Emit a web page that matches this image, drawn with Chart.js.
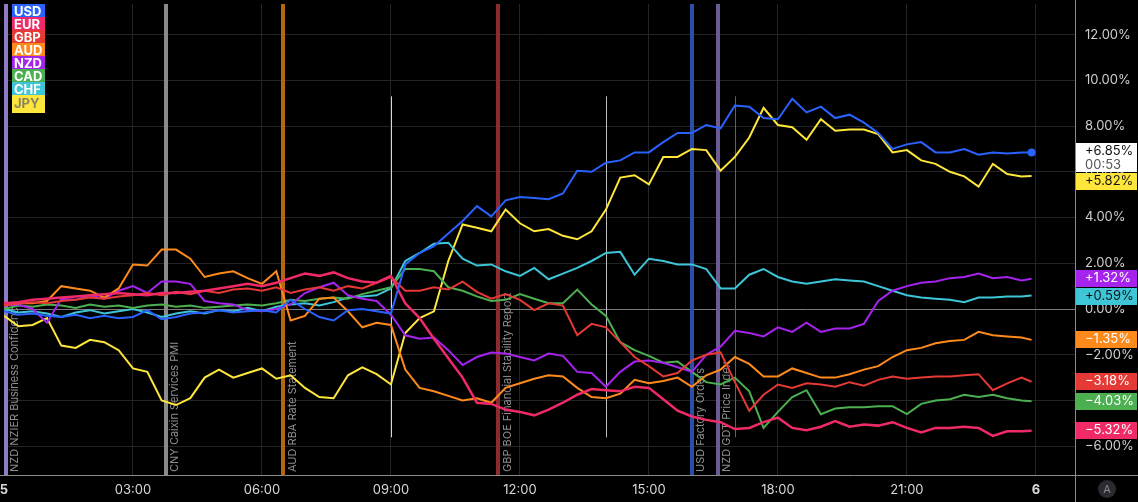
<!DOCTYPE html>
<html>
<head>
<meta charset="utf-8">
<script src="https://cdn.jsdelivr.net/npm/chart.js@4.4.1/dist/chart.umd.min.js"></script>
<style>
  html, body { margin: 0; padding: 0; background: #000; }
  #wrap { position: relative; width: 1138px; height: 502px; }
</style>
</head>
<body>
<div id="wrap"><canvas id="chart"></canvas></div>
<script>
// time of each sample (20 min steps, last one is the live bar)
const times = [
  "00:00","00:20","00:40","01:00","01:20","01:40","02:00","02:20","02:40","03:00",
  "03:20","03:40","04:00","04:20","04:40","05:00","05:20","05:40","06:00","06:20",
  "06:40","07:00","07:20","07:40","08:00","08:20","08:40","09:00","09:20","09:40",
  "10:00","10:20","10:40","11:00","11:20","11:40","12:00","12:20","12:40","13:00",
  "13:20","13:40","14:00","14:20","14:40","15:00","15:20","15:40","16:00","16:20",
  "16:40","17:00","17:20","17:40","18:00","18:20","18:40","19:00","19:20","19:40",
  "20:00","20:20","20:40","21:00","21:20","21:40","22:00","22:20","22:40","23:00",
  "23:20","23:40","23:54"
];

const currencies = ["USD", "EUR", "GBP", "AUD", "NZD", "CAD", "CHF", "JPY"];
const colors = ["#2962ff", "#f02a66", "#e53935", "#ff8a1c", "#a623ee", "#4caf50", "#3ec6d8", "#ffe63b"];

// % change since the open
const usd = [-0.1,-0.25,-0.2,-0.3,-0.35,-0.25,-0.4,-0.3,-0.4,-0.35,
  -0.05,-0.45,-0.35,-0.2,-0.15,-0.05,-0.15,-0.1,-0.05,-0.15,
  0.4,0.0,-0.35,-0.5,-0.05,0.0,-0.1,-0.2,1.95,2.45,
  2.75,3.3,3.85,4.5,4.05,4.75,4.9,4.85,4.8,5.05,
  6.05,6.0,6.4,6.5,6.85,6.85,7.3,7.7,7.7,8.05,
  7.9,8.9,8.85,8.35,8.3,9.2,8.6,8.85,8.35,8.5,
  8.15,7.7,7.0,7.2,7.3,6.85,6.85,7.0,6.75,6.85,
  6.8,6.85,6.85];
const eur = [0.25,0.3,0.4,0.45,0.5,0.55,0.6,0.65,0.7,0.65,
  0.6,0.7,0.7,0.75,0.8,0.9,1.0,1.1,1.0,1.15,
  1.35,1.55,1.45,1.6,1.35,1.2,1.15,1.45,0.25,-0.4,
  -1.3,-2.15,-3.0,-4.1,-4.15,-4.4,-4.5,-4.65,-4.4,-4.1,
  -3.75,-3.5,-3.55,-3.6,-3.4,-3.45,-3.95,-4.45,-4.7,-4.85,
  -4.95,-5.25,-5.2,-4.95,-4.75,-5.2,-5.3,-5.15,-4.9,-5.15,
  -5.05,-5.1,-4.95,-5.2,-5.4,-5.2,-5.2,-5.15,-5.2,-5.55,
  -5.35,-5.35,-5.32];
const gbp = [0.15,0.25,0.3,0.25,0.35,0.4,0.5,0.45,0.55,0.6,
  0.7,0.6,0.75,0.65,0.8,0.7,0.85,0.9,0.8,0.95,
  0.7,0.85,0.95,0.8,1.0,0.9,1.15,1.4,0.8,0.8,
  0.95,0.85,1.2,0.75,0.45,0.65,0.4,-0.05,0.25,0.15,
  -1.15,-0.65,-0.8,-1.45,-2.1,-2.5,-2.95,-2.8,-2.25,-2.0,
  -1.9,-3.2,-4.45,-3.75,-3.3,-3.45,-3.25,-3.3,-3.4,-3.2,
  -3.35,-3.1,-2.95,-3.05,-3.0,-2.95,-2.95,-2.9,-2.85,-3.55,
  -3.25,-3.0,-3.18];
const aud = [0.2,0.25,0.25,0.35,1.0,0.9,0.8,0.5,0.9,1.95,
  1.9,2.6,2.6,2.2,1.4,1.55,1.65,1.35,1.1,1.65,
  -0.5,-0.3,0.45,0.5,-0.1,-0.8,-0.6,-0.7,-2.65,-3.45,
  -3.6,-3.8,-4.0,-3.9,-4.1,-3.45,-3.25,-3.05,-2.9,-2.95,
  -3.45,-3.85,-3.9,-3.7,-3.1,-3.25,-3.15,-3.0,-3.4,-2.9,
  -2.65,-2.1,-2.4,-2.95,-2.95,-2.6,-2.8,-3.0,-3.0,-2.85,
  -2.65,-2.5,-2.1,-1.8,-1.7,-1.5,-1.4,-1.35,-1.0,-1.15,
  -1.2,-1.25,-1.35];
const nzd = [0.15,0.2,0.0,-0.6,0.45,0.4,0.6,0.45,0.8,1.0,
  0.7,1.2,1.2,1.1,0.35,0.25,0.2,-0.05,-0.1,0.0,
  0.2,0.7,0.95,1.15,0.6,0.45,0.35,-0.25,-1.15,-1.3,
  -1.25,-1.8,-2.45,-2.1,-1.9,-1.95,-2.1,-2.25,-1.95,-2.05,
  -2.75,-2.8,-3.4,-2.75,-2.3,-2.25,-2.35,-2.55,-2.75,-2.0,
  -1.65,-0.95,-1.05,-1.2,-0.8,-1.0,-0.6,-1.0,-0.85,-0.85,
  -0.65,0.35,0.8,1.0,1.15,1.2,1.35,1.4,1.55,1.35,
  1.4,1.25,1.32];
const cad = [0.0,0.15,0.1,0.2,0.15,0.05,0.2,0.1,0.15,0.05,
  0.15,0.2,0.1,0.15,0.05,0.1,0.15,0.2,0.15,0.25,
  0.4,0.35,0.45,0.5,0.45,0.65,0.8,0.95,1.75,1.75,
  1.65,0.95,0.8,0.55,0.35,0.4,0.65,0.45,0.25,0.25,
  0.85,0.2,-0.3,-1.45,-1.8,-2.05,-2.35,-2.3,-2.75,-3.2,
  -3.3,-3.0,-3.6,-5.2,-4.5,-3.85,-3.55,-4.6,-4.35,-4.3,
  -4.3,-4.25,-4.25,-4.6,-4.15,-4.0,-3.95,-3.75,-3.85,-3.75,
  -3.9,-4.0,-4.03];
const chf = [0.0,-0.15,-0.1,-0.2,-0.35,-0.15,-0.05,-0.2,-0.1,0.0,
  -0.15,-0.35,-0.2,-0.1,-0.2,-0.05,-0.1,0.05,-0.1,0.1,
  0.2,0.25,0.15,0.3,0.5,0.55,0.6,0.9,2.1,2.45,
  2.85,2.9,2.2,1.9,1.95,1.65,1.45,1.8,1.3,1.55,
  1.8,2.1,2.45,2.5,1.5,2.2,2.1,1.95,1.95,1.75,
  0.9,0.9,1.5,1.75,1.4,1.2,1.1,1.2,1.3,1.25,
  1.2,1.0,0.8,0.6,0.5,0.45,0.4,0.3,0.5,0.5,
  0.55,0.55,0.59];
const jpy = [-0.3,-0.75,-0.7,-0.4,-1.6,-1.7,-1.35,-1.45,-1.8,-2.6,
  -2.75,-4.0,-4.2,-3.9,-3.0,-2.65,-3.0,-2.8,-2.6,-3.05,
  -2.9,-3.45,-3.85,-3.9,-2.9,-2.55,-2.85,-3.3,-1.05,-0.4,
  -0.1,2.1,3.7,3.55,3.4,4.35,3.75,3.4,3.5,3.2,
  3.05,3.4,4.35,5.75,5.85,5.45,6.65,6.65,7.0,6.95,
  6.05,6.65,7.5,8.8,8.05,7.95,7.4,8.3,7.8,7.85,
  7.85,7.65,6.85,6.95,6.5,6.35,6.0,5.8,5.35,6.35,
  5.9,5.8,5.82];
const series = [usd, eur, gbp, aud, nzd, cad, chf, jpy];

// axes
const xTickHours = [0, 3, 6, 9, 12, 15, 18, 21, 24];
const xTickLabels = ["5", "03:00", "06:00", "09:00", "12:00", "15:00", "18:00", "21:00", "6"];
const yTickValues = [-6, -4, -2, 0, 2, 4, 6, 8, 10, 12];

// calendar events drawn as vertical bars
const eventTimes = ["00:03", "03:46", "06:30", "11:30", "16:00", "16:36"];
const eventLabels = ["NZD NZIER Business Confidence", "CNY Caixin Services PMI", "AUD RBA Rate Statement",
  "GBP BOE Financial Stability Report", "USD Factory Orders", "NZD GDT Price Index"];
const eventColors = ["#8f7cc4", "#8a8a8a", "#b5670f", "#8d2a30", "#2b4ea6", "#6c5a92"];
// session break lines
const sessionTimes = ["09:00", "14:00", "17:00"];
const sessionColors = ["#d6d6d6", "#bdbdbd", "#c0392b"];

const toHours = s => Number(s.slice(0, 2)) + Number(s.slice(3)) / 60;
const fmtPct = v => (v >= 0 ? "+" : "\u2212") + Math.abs(v).toFixed(2) + "%";
const X_MAX = 24.91;

const overlay = {
  id: "overlay",
  beforeDatasetsDraw(chart) {
    const { ctx, chartArea: a, scales: { x } } = chart;
    const h = a.bottom - a.top;
    ctx.save();
    ctx.beginPath();
    ctx.rect(a.left, a.top, a.right - a.left, h);
    ctx.clip();

    eventTimes.forEach((t, i) => {
      const px = Math.round(x.getPixelForValue(toHours(t)));
      ctx.fillStyle = eventColors[i];
      ctx.fillRect(px - 2, a.top, 4, h);
    });
    sessionTimes.forEach((t, i) => {
      const px = Math.round(x.getPixelForValue(toHours(t))) + 0.5;
      ctx.strokeStyle = sessionColors[i];
      ctx.lineWidth = 1;
      ctx.beginPath();
      ctx.moveTo(px, a.top + h * 0.196);
      ctx.lineTo(px, a.top + h * 0.92);
      ctx.stroke();
    });

    ctx.font = "11px Inter";
    ctx.fillStyle = "#8e8e8e";
    ctx.textAlign = "left";
    ctx.textBaseline = "middle";
    eventTimes.forEach((t, i) => {
      const px = x.getPixelForValue(toHours(t));
      ctx.save();
      ctx.translate(px + 9, a.bottom - 3);
      ctx.rotate(-Math.PI / 2);
      ctx.fillText(eventLabels[i], 0, 0);
      ctx.restore();
    });
    ctx.restore();
  },
  afterDraw(chart) {
    const { ctx, chartArea: a, scales: { y }, width, height } = chart;
    ctx.save();

    // frame lines
    ctx.strokeStyle = "#8c8c8c";
    ctx.lineWidth = 1;
    ctx.beginPath();
    ctx.moveTo(0, Math.round(a.bottom) + 0.5);
    ctx.lineTo(width, Math.round(a.bottom) + 0.5);
    ctx.moveTo(Math.round(a.right) + 0.5, 0);
    ctx.lineTo(Math.round(a.right) + 0.5, height);
    ctx.stroke();

    // legend boxes
    let top = 4;
    chart.data.datasets.forEach((ds, i) => {
      const last = i === chart.data.datasets.length - 1;
      const bh = last ? 18 : 13;
      ctx.fillStyle = ds.borderColor;
      ctx.fillRect(12, top, 33, bh);
      ctx.fillStyle = last ? "#8a8560" : "#ffffff";
      ctx.font = "bold 13px Inter";
      ctx.textAlign = "left";
      ctx.textBaseline = "middle";
      ctx.fillText(ds.label, 14, top + (last ? 9 : 8));
      top += 13;
    });

    // last value labels on the price scale
    const items = chart.data.datasets.map((ds, i) => {
      const v = ds.data[ds.data.length - 1].y;
      return { i, v, color: ds.borderColor, py: y.getPixelForValue(v), label: ds.label };
    }).sort((p, q) => p.py - q.py);
    let prevBottom = -Infinity;
    const boxX = Math.round(a.right) + 1;
    const boxW = 61;
    items.forEach(it => {
      const isUsd = it.label === "USD";
      const bh = isUsd ? 29 : 17;
      let bt = Math.round(it.py - (isUsd ? 9 : 8.5));
      if (bt < prevBottom + 1) bt = prevBottom + 1;
      prevBottom = bt + bh;
      ctx.fillStyle = isUsd ? "#ffffff" : it.color;
      ctx.fillRect(boxX, bt, boxW, bh);
      ctx.font = "13px Inter";
      ctx.textAlign = "left";
      ctx.textBaseline = "middle";
      const dark = isUsd || it.label === "JPY" || it.label === "CHF";
      ctx.fillStyle = dark ? "#131313" : "#ffffff";
      ctx.fillText(fmtPct(it.v), boxX + 9, bt + 8.5);
      if (isUsd) {
        ctx.fillStyle = "#555555";
        ctx.fillText("00:53", boxX + 9, bt + 22);
      }
    });

    // auto-scale button
    ctx.fillStyle = "#2a2b30";
    ctx.beginPath();
    ctx.arc(1107, 489, 9, 0, Math.PI * 2);
    ctx.fill();
    ctx.fillStyle = "#8a8a8f";
    ctx.font = "11px Inter";
    ctx.textAlign = "center";
    ctx.textBaseline = "middle";
    ctx.fillText("A", 1107, 489.5);

    ctx.restore();
  }
};

const datasets = currencies.map((c, i) => ({
  label: c,
  data: series[i].map((v, k) => ({ x: toHours(times[k]), y: v })),
  borderColor: colors[i],
  backgroundColor: colors[i],
  borderWidth: c === "EUR" ? 2.5 : 2,
  pointRadius: c === "USD" ? (ctx => ctx.dataIndex === series[i].length - 1 ? 4 : 0) : 0,
  pointBorderWidth: 0,
  tension: 0,
  fill: false
}));

new Chart(document.getElementById("chart"), {
  type: "line",
  data: { datasets },
  options: {
    responsive: true,
    maintainAspectRatio: false,
    animation: false,
    layout: { padding: 0 },
    plugins: { legend: { display: false }, tooltip: { enabled: false } },
    scales: {
      x: {
        type: "linear",
        min: 0,
        max: X_MAX,
        afterBuildTicks: s => { s.ticks = xTickHours.concat([X_MAX]).map(v => ({ value: v })); },
        afterFit: s => { s.height = 27; s.paddingLeft = 0; s.paddingRight = 0; },
        border: { display: false },
        grid: {
          color: ctx => (ctx.tick && ctx.tick.value > 24.5) ? "transparent" : "#242424",
          drawTicks: false
        },
        ticks: {
          autoSkip: false,
          maxRotation: 0,
          padding: 7,
          color: "#d8d8d8",
          font: ctx => ({
            family: "Inter", size: 13,
            weight: (ctx.tick && (ctx.tick.value === 0 || ctx.tick.value === 24)) ? "bold" : "normal"
          }),
          callback: v => {
            const k = xTickHours.indexOf(v);
            return k >= 0 ? xTickLabels[k] : "";
          }
        }
      },
      y: {
        position: "right",
        min: -7.26,
        max: 13.34,
        afterBuildTicks: s => { s.ticks = yTickValues.map(v => ({ value: v })); },
        afterFit: s => { s.width = 63; s.paddingTop = 0; s.paddingBottom = 0; },
        border: { display: false },
        grid: {
          color: ctx => (ctx.tick && ctx.tick.value === 0) ? "#7c7c7c" : "#242424",
          drawTicks: false
        },
        ticks: {
          padding: 10,
          color: "#cfcfcf",
          font: { family: "Inter", size: 13 },
          callback: v => (v < 0 ? "\u2212" : "") + Math.abs(v).toFixed(2) + "%"
        }
      }
    }
  },
  plugins: [overlay]
});
</script>
</body>
</html>
